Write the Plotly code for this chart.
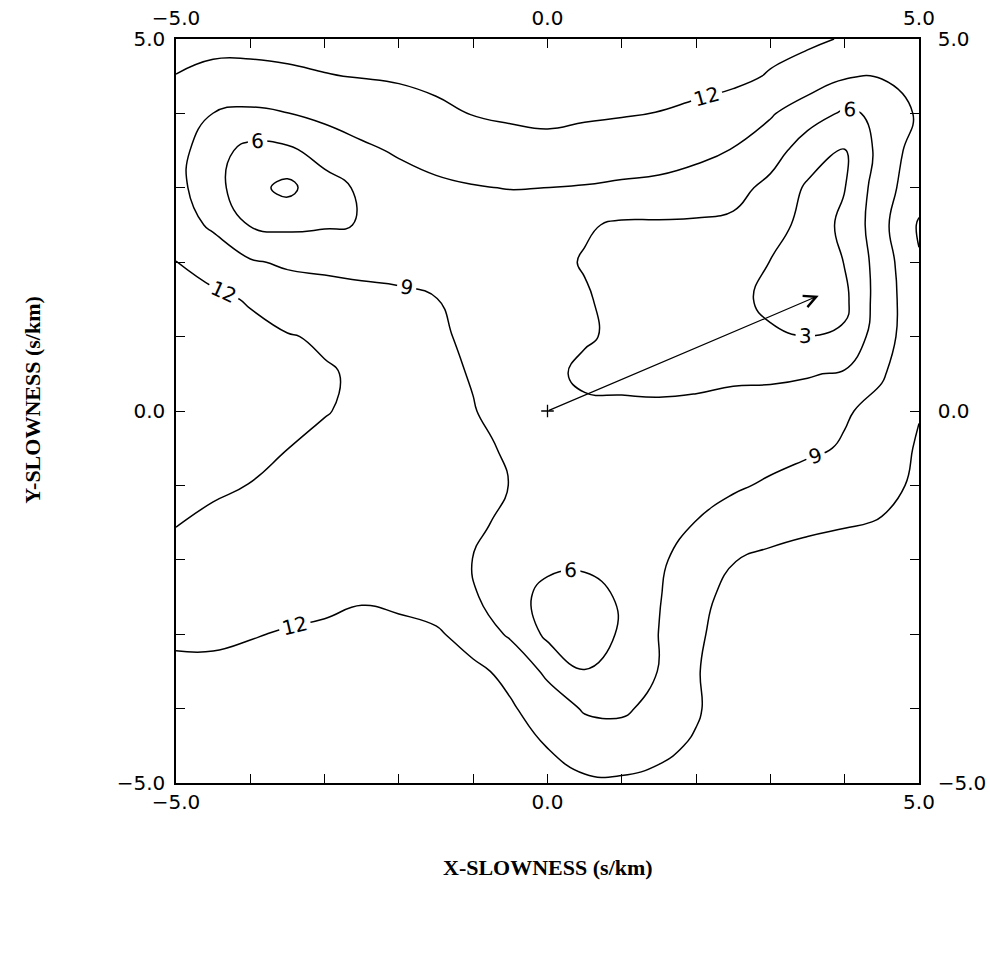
import plotly.graph_objects as go

# Grid of slowness coordinates (s/km)
x_slowness = [-5.0, -4.5, -4.0, -3.5, -3.0, -2.5, -2.0, -1.5, -1.0, -0.5, 0.0,
              0.5, 1.0, 1.5, 2.0, 2.5, 3.0, 3.5, 4.0, 4.5, 5.0]
y_slowness = [5.0, 4.5, 4.0, 3.5, 3.0, 2.5, 2.0, 1.5, 1.0, 0.5, 0.0,
              -0.5, -1.0, -1.5, -2.0, -2.5, -3.0, -3.5, -4.0, -4.5, -5.0]

# Contoured quantity, one row per y_slowness value (top row first)
z_values = [
    [12.8, 12.6, 12.7, 12.8, 12.9, 13.0, 13.2, 13.5, 13.8, 14.0, 14.0, 13.9, 13.7, 13.4, 13.0, 12.7, 12.6, 12.5, 11.8, 11.3, 11.0],
    [11.95, 11.5, 11.4, 11.6, 11.9, 12.1, 12.3, 12.7, 13.0, 13.2, 13.3, 13.2, 13.0, 12.7, 12.5, 12.5, 11.85, 10.8, 9.3, 9.2, 10.0],
    [10.8, 8.98, 8.5, 8.95, 9.8, 10.3, 10.8, 11.4, 12.1, 12.4, 12.5, 12.4, 12.2, 11.95, 11.7, 11.0, 9.3, 7.3, 5.6, 6.5, 9.5],
    [10.2, 7.0, 5.2, 5.5, 7.0, 8.5, 9.3, 10.0, 10.6, 10.96, 11.3, 10.7, 10.4, 10.15, 9.75, 8.85, 7.3, 4.5, 2.9, 7.0, 10.5],
    [9.9, 7.1, 4.0, 2.2, 5.0, 6.4, 7.9, 8.5, 8.85, 9.08, 8.98, 8.85, 8.6, 8.4, 7.7, 7.0, 5.2, 2.6, 2.95, 7.8, 10.8],
    [10.5, 8.5, 5.85, 5.4, 5.7, 6.1, 7.3, 7.6, 7.6, 7.4, 7.0, 6.3, 5.6, 5.6, 5.6, 5.4, 4.0, 2.2, 3.3, 8.2, 12.3],
    [12.05, 11.0, 9.3, 8.6, 8.5, 8.4, 8.4, 8.0, 7.6, 7.2, 6.8, 5.8, 5.3, 4.8, 4.5, 4.0, 2.95, 2.2, 3.05, 7.5, 11.8],
    [12.6, 12.5, 11.8, 10.6, 9.95, 9.6, 9.35, 9.05, 8.2, 7.5, 7.0, 6.3, 5.0, 4.6, 4.2, 3.6, 2.5, 1.9, 2.4, 7.6, 11.0],
    [13.0, 12.9, 12.6, 12.15, 11.7, 10.8, 10.1, 9.4, 8.5, 7.7, 7.1, 6.4, 5.3, 4.6, 4.2, 3.8, 3.3, 3.02, 3.4, 7.9, 10.8],
    [13.2, 13.1, 12.9, 12.5, 12.2, 11.7, 10.4, 9.6, 8.85, 7.7, 7.0, 5.2, 5.2, 4.9, 5.2, 5.6, 5.6, 5.8, 6.3, 8.8, 10.6],
    [13.3, 13.2, 13.0, 12.6, 12.15, 11.4, 10.4, 9.9, 9.1, 8.1, 7.5, 6.8, 6.6, 6.65, 6.7, 6.8, 7.0, 7.5, 8.8, 9.6, 11.9],
    [13.2, 12.9, 12.6, 12.02, 11.3, 10.8, 10.3, 9.9, 9.35, 8.8, 7.8, 7.3, 7.2, 7.3, 7.5, 7.8, 8.2, 8.6, 9.2, 11.0, 12.2],
    [12.8, 12.4, 11.95, 11.5, 11.1, 10.7, 10.3, 9.9, 9.5, 8.97, 8.4, 7.9, 7.7, 7.8, 8.2, 8.7, 9.3, 10.0, 10.7, 11.5, 12.3],
    [12.1, 11.5, 11.1, 10.8, 10.6, 10.4, 10.1, 9.8, 9.35, 8.6, 7.8, 7.3, 7.4, 8.0, 9.05, 10.0, 10.8, 11.4, 11.8, 12.1, 12.6],
    [11.3, 11.0, 10.8, 10.7, 10.6, 10.4, 10.1, 9.6, 8.95, 7.8, 6.5, 6.4, 6.8, 8.6, 10.2, 11.9, 12.6, 13.0, 13.1, 13.0, 13.0],
    [11.0, 10.9, 10.9, 11.1, 11.3, 11.8, 11.5, 10.6, 9.4, 6.8, 5.4, 5.2, 6.25, 8.85, 11.0, 13.0, 13.5, 13.7, 13.8, 13.7, 13.6],
    [11.6, 11.5, 11.85, 12.2, 12.5, 12.7, 12.6, 12.4, 10.8, 8.6, 5.4, 5.1, 6.2, 9.05, 11.5, 13.4, 13.9, 14.0, 14.0, 14.0, 13.9],
    [12.5, 12.6, 12.8, 13.1, 13.3, 13.4, 13.3, 13.0, 12.6, 11.3, 8.4, 6.05, 6.9, 9.1, 11.8, 13.6, 14.1, 14.2, 14.2, 14.2, 14.1],
    [13.0, 13.1, 13.3, 13.5, 13.6, 13.7, 13.6, 13.4, 12.9, 12.3, 10.7, 8.7, 8.5, 10.0, 11.7, 13.6, 14.1, 14.3, 14.4, 14.4, 14.3],
    [13.3, 13.4, 13.5, 13.7, 13.8, 13.8, 13.8, 13.6, 13.3, 12.7, 11.95, 10.75, 10.6, 11.4, 12.3, 13.6, 14.1, 14.3, 14.4, 14.4, 14.4],
    [13.5, 13.6, 13.7, 13.8, 13.9, 13.9, 13.9, 13.8, 13.6, 13.2, 12.8, 12.4, 12.35, 12.6, 13.2, 13.8, 14.1, 14.3, 14.4, 14.4, 14.4],
]

# Contour levels
level_start = 3
level_end = 12
level_step = 3

# Slowness vector drawn from the origin
vector_tail = (0.0, 0.0)
vector_tip = (3.65, 1.55)

# Axis ticks (every 1 s/km, labelled at the ends and centre)
tick_vals = [-5, -4, -3, -2, -1, 0, 1, 2, 3, 4, 5]
tick_text = ["\u22125.0", "", "", "", "", "0.0", "", "", "", "", "5.0"]

x_title = "X-SLOWNESS (s/km)"
y_title = "Y-SLOWNESS (s/km)"

tick_font = dict(family="DejaVu Sans", size=20, color="black")
title_font = dict(family="Liberation Serif", size=22, color="black")

fig = go.Figure()

fig.add_trace(go.Contour(
    x=x_slowness,
    y=y_slowness[::-1],
    z=z_values[::-1],
    contours=dict(
        start=level_start,
        end=level_end,
        size=level_step,
        coloring="none",
        showlabels=True,
        labelfont=dict(family="DejaVu Sans", size=20, color="black"),
    ),
    line=dict(color="black", width=1.5, smoothing=1.3),
    showscale=False,
    hoverinfo="skip",
))

# Origin cross on the mirrored axes
fig.add_trace(go.Scatter(
    x=[vector_tail[0]], y=[vector_tail[1]],
    xaxis="x2", yaxis="y2",
    mode="markers",
    marker=dict(symbol="cross-thin", size=9, line=dict(color="black", width=1.3)),
    hoverinfo="skip",
))

fig.add_annotation(
    x=vector_tip[0], y=vector_tip[1],
    ax=vector_tail[0], ay=vector_tail[1],
    xref="x", yref="y", axref="x", ayref="y",
    text="", showarrow=True,
    arrowhead=5, arrowsize=2.0, arrowwidth=1.2, arrowcolor="black",
    standoff=0, startstandoff=0,
)

axis_common = dict(
    range=[-5, 5],
    tickmode="array",
    tickvals=tick_vals,
    ticktext=tick_text,
    ticks="inside",
    ticklen=9,
    tickwidth=1.2,
    tickcolor="black",
    showline=True,
    linecolor="black",
    linewidth=1.5,
    showgrid=False,
    zeroline=False,
    tickfont=tick_font,
    fixedrange=True,
    automargin=False,
)

fig.update_layout(
    width=990,
    height=957,
    margin=dict(l=176, r=71, t=39, b=174),
    plot_bgcolor="white",
    paper_bgcolor="white",
    showlegend=False,
    xaxis=dict(**axis_common, anchor="y", side="bottom"),
    yaxis=dict(**axis_common, anchor="x", side="left", ticklabelstandoff=5),
    xaxis2=dict(**axis_common, overlaying="x", anchor="y", side="top",
                ticklabelstandoff=4),
    yaxis2=dict(**axis_common, overlaying="y", anchor="x", side="right",
                ticklabelstandoff=13),
    annotations=list(fig.layout.annotations) + [
        dict(text="<b>" + x_title + "</b>", xref="paper", yref="paper",
             x=0.5, y=-0.114, xanchor="center", yanchor="middle",
             showarrow=False, font=title_font),
        dict(text="<b>" + y_title + "</b>", xref="paper", yref="paper",
             x=-0.1925, y=0.515, xanchor="center", yanchor="middle",
             textangle=-90, showarrow=False, font=title_font),
    ],
)

fig.write_html("out.html")
